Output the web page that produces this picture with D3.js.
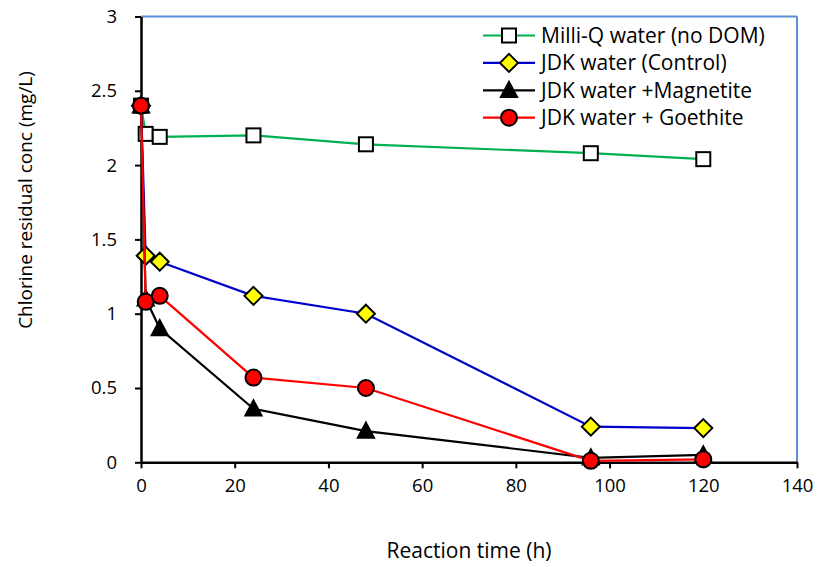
<!DOCTYPE html>
<html>
<head>
<meta charset="utf-8">
<script src="https://cdn.jsdelivr.net/npm/d3@7"></script>
<style>
  html, body { margin: 0; padding: 0; background: #fff; }
  svg { display: block; font-family: "Open Sans", Lato, sans-serif; }
</style>
</head>
<body>
<svg id="chart" width="819" height="567"></svg>
<script>
// Sampling times (h)
const times = [0, 1, 4, 24, 48, 96, 120];

// Chlorine residual (mg/L) for each condition
const milliQ       = [2.40, 2.21, 2.19, 2.20, 2.14, 2.08, 2.04];
const jdkControl   = [2.40, 1.39, 1.35, 1.12, 1.00, 0.24, 0.23];
const jdkMagnetite = [2.40, 1.10, 0.90, 0.36, 0.21, 0.03, 0.05];
const jdkGoethite  = [2.40, 1.08, 1.12, 0.57, 0.50, 0.01, 0.02];

const seriesNames = ["Milli-Q water (no DOM)", "JDK water (Control)", "JDK water +Magnetite", "JDK water + Goethite"];

const xTicks = [0, 20, 40, 60, 80, 100, 120, 140];
const yTicks = [0, 0.5, 1, 1.5, 2, 2.5, 3];

const series = [
  { name: seriesNames[0], values: milliQ, color: "#00b050", marker: "square" },
  { name: seriesNames[1], values: jdkControl, color: "#0000cc", marker: "diamond" },
  { name: seriesNames[2], values: jdkMagnetite, color: "#000000", marker: "triangle" },
  { name: seriesNames[3], values: jdkGoethite, color: "#ff0000", marker: "circle" }
];

const svg = d3.select("#chart");
const margin = { left: 141, right: 22, top: 16.5, bottom: 104.7 };
const W = 819, H = 567;

const x = d3.scaleLinear().domain([0, 140]).range([margin.left, W - margin.right]);
const y = d3.scaleLinear().domain([0, 3]).range([H - margin.bottom, margin.top]);

// Plot frame: top and right edges
svg.append("line").attr("x1", x(0)).attr("x2", x(140)).attr("y1", y(3)).attr("y2", y(3))
  .attr("stroke", "#5b8fd4").attr("stroke-width", 2);
svg.append("line").attr("x1", x(140)).attr("x2", x(140)).attr("y1", y(3)).attr("y2", y(0))
  .attr("stroke", "#5b8fd4").attr("stroke-width", 2);

// Axes
const xAxis = svg.append("g").attr("transform", `translate(0,${y(0)})`)
  .call(d3.axisBottom(x).tickValues(xTicks).tickSize(6).tickSizeOuter(0).tickFormat(d3.format("d")));
const yAxis = svg.append("g").attr("transform", `translate(${x(0)},0)`)
  .call(d3.axisLeft(y).tickValues(yTicks).tickSize(6).tickSizeOuter(0).tickFormat(d => String(d)));

[xAxis, yAxis].forEach(g => {
  g.select(".domain").attr("stroke", "#000").attr("stroke-width", 2.5);
  g.selectAll(".tick line").attr("stroke", "#000").attr("stroke-width", 2);
  g.selectAll(".tick text").attr("fill", "#000").attr("font-size", 18.5)
    .attr("font-family", "'Open Sans', Lato, sans-serif");
});
xAxis.selectAll(".tick text").attr("y", 24).attr("dy", "0.32em");
yAxis.selectAll(".tick text").attr("x", -24);

// Axis titles
svg.append("text").attr("x", 469).attr("y", 558).attr("text-anchor", "middle")
  .attr("font-size", 21).attr("fill", "#000").text("Reaction time (h)");
svg.append("text").attr("transform", "translate(32,200) rotate(-90)")
  .attr("text-anchor", "middle").attr("font-size", 19).attr("fill", "#000")
  .text("Chlorine residual conc (mg/L)");

// Marker drawing
function drawMarker(g, type, cx, cy) {
  if (type === "square") {
    g.append("rect").attr("x", cx - 7).attr("y", cy - 7).attr("width", 14).attr("height", 14)
      .attr("fill", "#fff").attr("stroke", "#000").attr("stroke-width", 2);
  } else if (type === "diamond") {
    g.append("path").attr("d", `M${cx},${cy - 9}L${cx + 9},${cy}L${cx},${cy + 9}L${cx - 9},${cy}Z`)
      .attr("fill", "#ffff00").attr("stroke", "#000").attr("stroke-width", 2);
  } else if (type === "triangle") {
    g.append("path").attr("d", `M${cx},${cy - 9}L${cx + 8.5},${cy + 7}L${cx - 8.5},${cy + 7}Z`)
      .attr("fill", "#000").attr("stroke", "#000").attr("stroke-width", 1.5);
  } else {
    g.append("circle").attr("cx", cx).attr("cy", cy).attr("r", 8)
      .attr("fill", "#ff0000").attr("stroke", "#000").attr("stroke-width", 2);
  }
}

const line = d3.line().x(d => x(d[0])).y(d => y(d[1]));

series.forEach(s => {
  const pts = times.map((t, i) => [t, s.values[i]]);
  const g = svg.append("g");
  g.append("path").attr("d", line(pts)).attr("fill", "none")
    .attr("stroke", s.color).attr("stroke-width", 2.2);
  pts.forEach(p => drawMarker(g, s.marker, x(p[0]), y(p[1])));
});

// Legend
const legend = svg.append("g");
series.forEach((s, i) => {
  const ly = 35.5 + i * 27.4;
  legend.append("line").attr("x1", 483).attr("x2", 535).attr("y1", ly).attr("y2", ly)
    .attr("stroke", s.color).attr("stroke-width", 2.2);
  drawMarker(legend, s.marker, 509, ly);
  legend.append("text").attr("x", 541).attr("y", ly).attr("dy", "0.36em")
    .attr("font-size", 21).attr("fill", "#000").text(s.name);
});
</script>
</body>
</html>
